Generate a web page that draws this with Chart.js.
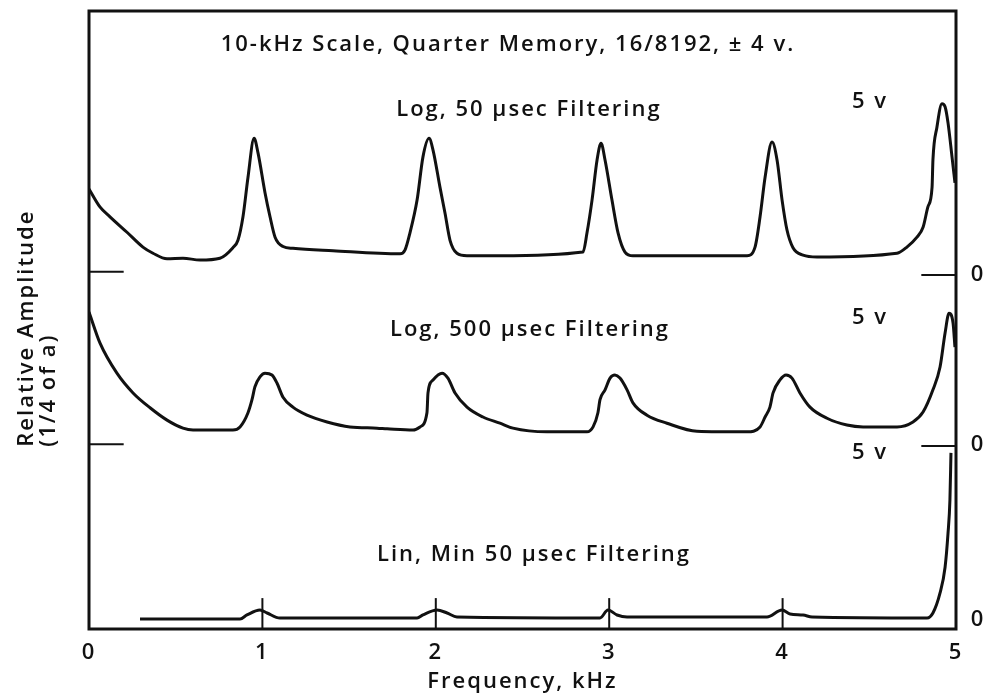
<!DOCTYPE html>
<html>
<head>
<meta charset="utf-8">
<script src="https://cdn.jsdelivr.net/npm/chart.js@4.4.0/dist/chart.umd.min.js"></script>
<style>
  body { margin: 0; background: #fff; }
  canvas { display: block; }
</style>
</head>
<body>
<canvas id="chart" width="986" height="699"></canvas>
<script>
// Frequency in kHz, amplitude in display units (0 = bottom of frame, 100 = top)

// Log, 50 usec filtering (top trace)
const topFreq = [0, 0.063, 0.121, 0.219, 0.311, 0.369, 0.45, 0.542, 0.64, 0.755, 0.83, 0.859, 0.888, 0.917, 0.952, 0.975, 1.015, 1.044, 1.073, 1.119, 1.176, 1.407, 1.794, 1.822, 1.851, 1.892, 1.926, 1.961, 1.984, 2.024, 2.053, 2.082, 2.122, 2.18, 2.37, 2.849, 2.872, 2.901, 2.93, 2.953, 2.976, 3.016, 3.051, 3.091, 3.137, 3.795, 3.841, 3.87, 3.899, 3.939, 3.968, 3.997, 4.025, 4.06, 4.118, 4.198, 4.66, 4.717, 4.775, 4.81, 4.838, 4.862, 4.867, 4.89, 4.919, 4.937, 4.954, 4.977, 4.994];
const topAmp = [71.2, 68.3, 66.7, 64.2, 61.8, 60.8, 59.9, 60.0, 59.7, 60.0, 61.7, 62.9, 66.7, 73.1, 79.4, 77.0, 70.6, 66.7, 63.4, 61.9, 61.6, 61.2, 60.7, 61.3, 64.1, 69.4, 76.4, 79.4, 77.5, 71.5, 67.3, 62.9, 60.8, 60.4, 60.4, 61.0, 64.1, 69.4, 75.9, 78.6, 75.9, 69.4, 64.1, 61.0, 60.4, 60.4, 61.8, 66.7, 73.1, 78.8, 75.9, 69.4, 64.6, 61.7, 60.5, 60.2, 60.8, 61.8, 63.4, 65.0, 68.3, 71.5, 75.9, 81.2, 85.0, 84.5, 81.9, 76.4, 72.2];

// Log, 500 usec filtering (middle trace)
const midFreq = [0, 0.063, 0.161, 0.254, 0.352, 0.45, 0.542, 0.6, 0.83, 0.871, 0.917, 0.94, 0.957, 0.986, 1.015, 1.055, 1.084, 1.119, 1.176, 1.257, 1.373, 1.505, 1.661, 1.719, 1.869, 1.909, 1.949, 1.955, 1.984, 2.036, 2.07, 2.111, 2.18, 2.272, 2.37, 2.445, 2.641, 2.872, 2.907, 2.935, 2.947, 2.976, 3.005, 3.033, 3.062, 3.103, 3.137, 3.218, 3.333, 3.506, 3.795, 3.87, 3.899, 3.927, 3.945, 3.985, 4.02, 4.054, 4.1, 4.158, 4.256, 4.371, 4.464, 4.66, 4.752, 4.81, 4.867, 4.908, 4.937, 4.96, 4.983, 4.994];
const midAmp = [51.3, 46.3, 41.4, 38.2, 35.8, 33.8, 32.5, 32.2, 32.2, 32.7, 35.0, 37.1, 39.2, 40.8, 41.4, 41.1, 39.8, 37.5, 35.9, 34.6, 33.5, 32.7, 32.5, 32.4, 32.2, 32.7, 35.0, 38.2, 40.3, 41.4, 40.6, 38.2, 35.9, 34.3, 33.3, 32.5, 31.9, 31.9, 32.7, 35.0, 37.1, 38.7, 40.6, 41.1, 40.6, 38.7, 36.6, 34.6, 33.3, 32.0, 31.9, 32.7, 34.3, 35.9, 38.2, 40.3, 41.1, 40.6, 38.2, 35.9, 34.1, 33.0, 32.7, 32.7, 33.5, 35.1, 38.7, 42.4, 47.9, 51.1, 49.5, 45.6];

// Lin, Min 50 usec filtering (bottom trace)
const linFreq = [0.294, 0.871, 0.911, 0.986, 1.027, 1.101, 1.892, 1.926, 2.007, 2.065, 2.122, 2.947, 2.993, 3.045, 3.103, 3.91, 3.997, 4.043, 4.118, 4.17, 4.833, 4.867, 4.908, 4.937, 4.954, 4.965, 4.971];
const linAmp = [1.62, 1.62, 2.27, 3.07, 2.59, 1.78, 1.78, 2.27, 3.07, 2.59, 1.94, 1.78, 3.07, 2.27, 1.94, 1.94, 3.07, 2.43, 2.27, 1.94, 1.78, 2.59, 5.83, 10.0, 15.5, 20.9, 28.5];

// zero levels of the two upper traces (left / right marks)
const zeroLeft = [57.8, 29.9];
const zeroRight = [57.3, 29.6];

// x tick labels and the little markers above the lin peaks
const freqTicks = [0, 1, 2, 3, 4, 5];
const peakMarks = [1, 2, 3, 4];

const FONT = '"Open Sans", sans-serif';
const INK = "#111";

function toPoints(xs, ys) {
  return xs.map((x, i) => ({ x: x, y: ys[i] }));
}

function trace(xs, ys) {
  return {
    data: toPoints(xs, ys),
    borderColor: INK,
    borderWidth: 3,
    pointRadius: 0,
    cubicInterpolationMode: "monotone",
    fill: false,
  };
}

// text placed in data coordinates
const labels = [
  { text: "10-kHz Scale, Quarter Memory, 16/8192, \u00b1 4 v.", x: 2.416, y: 94.6, align: "center" },
  { text: "Log, 50 \u03bcsec Filtering", x: 2.537, y: 84.0, align: "center" },
  { text: "Log, 500 \u03bcsec Filtering", x: 2.543, y: 48.4, align: "center" },
  { text: "Lin, Min 50 \u03bcsec Filtering", x: 2.566, y: 12.0, align: "center" },
  { text: "5 v", x: 4.4, y: 85.3, align: "left" },
  { text: "5 v", x: 4.4, y: 50.3, align: "left" },
  { text: "5 v", x: 4.4, y: 28.5, align: "left" },
  { text: "0", x: 5.085, y: 57.3, align: "left" },
  { text: "0", x: 5.085, y: 29.8, align: "left" },
  { text: "0", x: 5.085, y: 1.46, align: "left" },
];

const decorPlugin = {
  id: "decor",
  beforeDraw(chart) {
    // wide lettering like the original plot; chart.js resets the canvas on resize
    chart.ctx.letterSpacing = "2px";
  },
  afterDraw(chart) {
    const { ctx, chartArea: a, scales: { x, y } } = chart;
    ctx.save();
    ctx.strokeStyle = INK;
    ctx.fillStyle = INK;

    // frame
    ctx.lineWidth = 3;
    ctx.strokeRect(a.left, a.top, a.right - a.left, a.bottom - a.top);

    // zero level marks
    ctx.lineWidth = 2;
    zeroLeft.forEach((v) => {
      ctx.beginPath();
      ctx.moveTo(x.getPixelForValue(0), y.getPixelForValue(v));
      ctx.lineTo(x.getPixelForValue(0.2), y.getPixelForValue(v));
      ctx.stroke();
    });
    zeroRight.forEach((v) => {
      ctx.beginPath();
      ctx.moveTo(x.getPixelForValue(4.8), y.getPixelForValue(v));
      ctx.lineTo(x.getPixelForValue(5), y.getPixelForValue(v));
      ctx.stroke();
    });

    // markers at 1..4 kHz above the bottom trace
    peakMarks.forEach((f) => {
      const px = x.getPixelForValue(f);
      ctx.beginPath();
      ctx.moveTo(px, y.getPixelForValue(0));
      ctx.lineTo(px, y.getPixelForValue(5));
      ctx.stroke();
    });

    // text
    ctx.letterSpacing = "2px";
    ctx.font = "600 22px " + FONT;
    ctx.textBaseline = "middle";
    labels.forEach((l) => {
      ctx.textAlign = l.align;
      ctx.fillText(l.text, x.getPixelForValue(l.x), y.getPixelForValue(l.y));
    });

    // y title, rotated
    ctx.save();
    ctx.translate(a.left - 62, y.getPixelForValue(29.5));
    ctx.rotate(-Math.PI / 2);
    ctx.textAlign = "left";
    ctx.fillText("Relative Amplitude", 0, 0);
    ctx.fillText("(1/4 of a)", 0, 22);
    ctx.restore();

    ctx.restore();
  },
};

new Chart(document.getElementById("chart"), {
  type: "line",
  data: {
    datasets: [trace(topFreq, topAmp), trace(midFreq, midAmp), trace(linFreq, linAmp)],
  },
  options: {
    responsive: false,
    animation: false,
    layout: { padding: { left: 89, right: 30, top: 11, bottom: 0 } },
    plugins: { legend: { display: false }, tooltip: { enabled: false } },
    scales: {
      x: {
        type: "linear",
        min: 0,
        max: 5,
        afterBuildTicks(scale) {
          scale.ticks = freqTicks.map((v) => ({ value: v }));
        },
        afterFit(scale) {
          scale.height = 70;
        },
        grid: { display: false, drawTicks: false },
        border: { display: false },
        ticks: { color: INK, padding: 11, font: { family: FONT, size: 22, weight: "600" } },
        title: {
          display: true,
          text: "Frequency, kHz",
          color: INK,
          font: { family: FONT, size: 22, weight: "600" },
          padding: { top: 0, bottom: 4 },
        },
      },
      y: { display: false, min: 0, max: 100 },
    },
  },
  plugins: [decorPlugin],
});
</script>
</body>
</html>
